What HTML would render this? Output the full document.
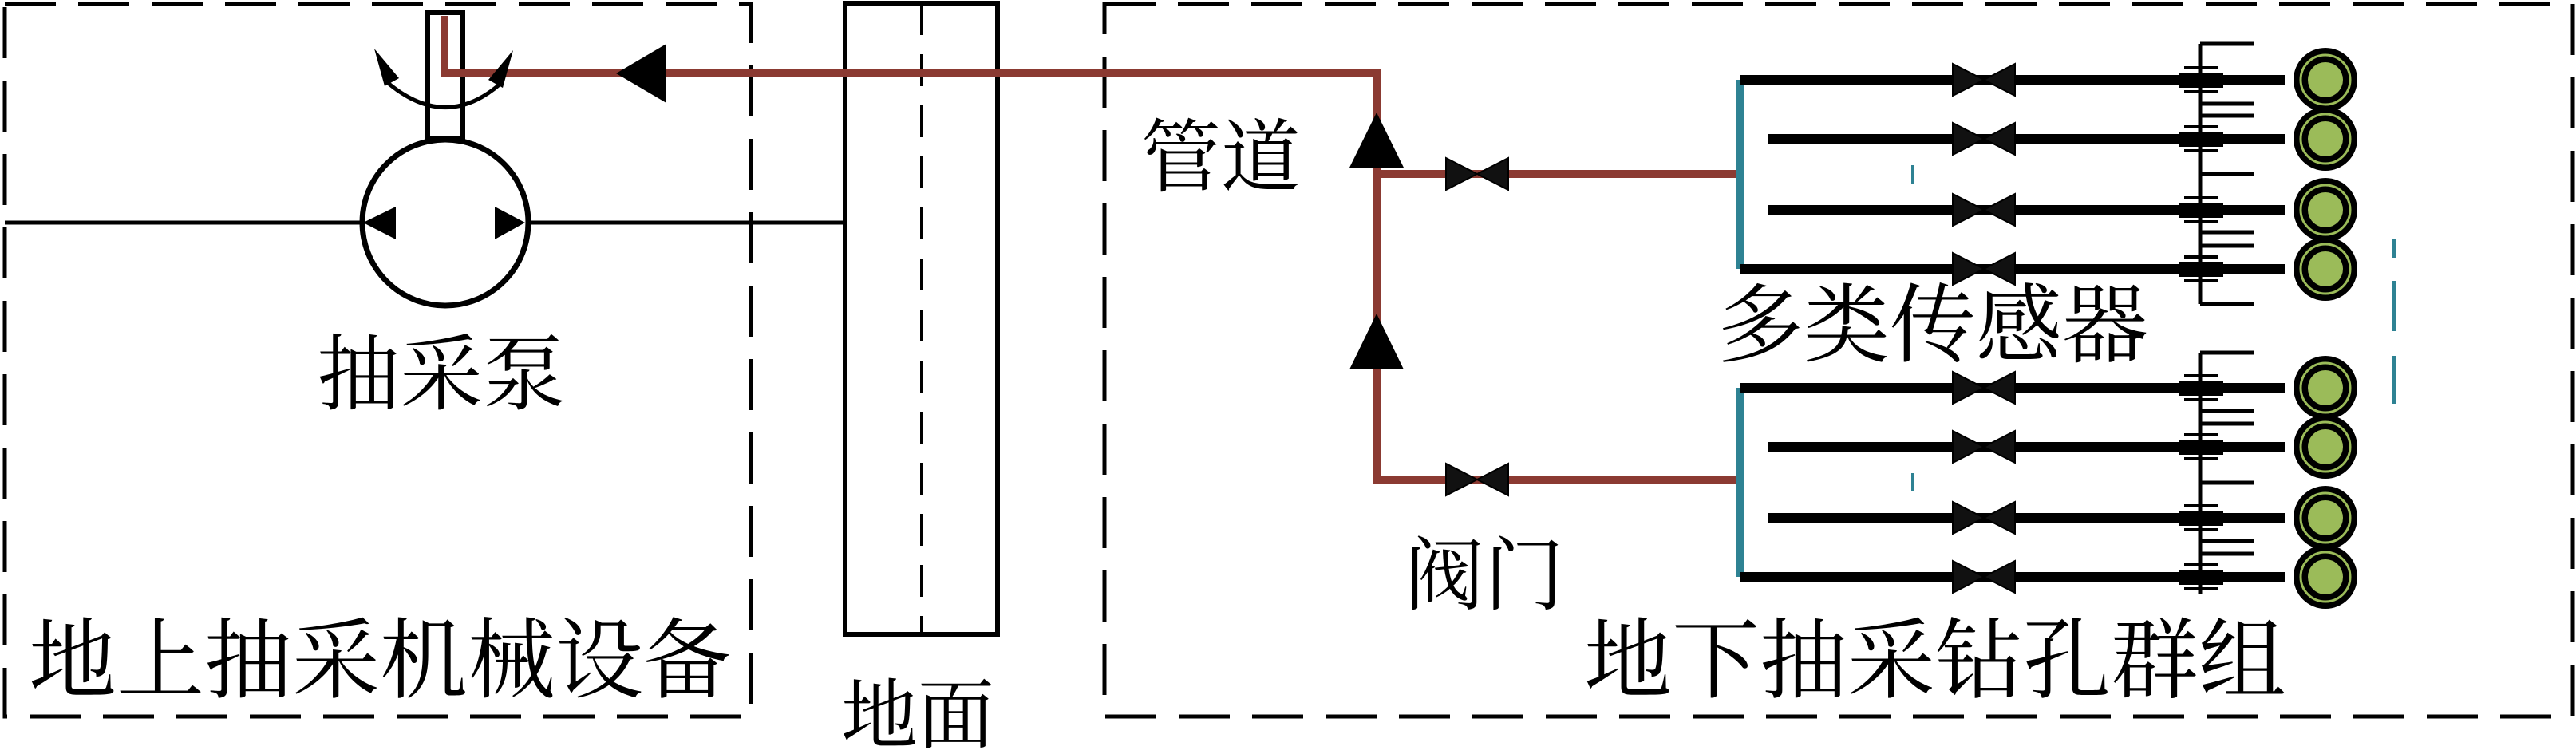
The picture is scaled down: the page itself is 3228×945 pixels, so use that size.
<!DOCTYPE html>
<html><head><meta charset="utf-8"><style>
html,body{margin:0;padding:0;background:#fff;}
svg{display:block;}
text{font-family:"Liberation Serif","Noto Serif CJK SC","Noto Sans CJK SC",serif;fill:#000;}
</style></head><body>
<svg width="3228" height="945" viewBox="0 0 3228 945" xmlns="http://www.w3.org/2000/svg">
<defs>
<g id="valveB"><polygon points="-39,-20 39,20 39,-20 -39,20" fill="#111" stroke="#000" stroke-width="2"/></g>
<g id="sensor">
  <circle r="40" fill="#000"/>
  <circle r="31" fill="none" stroke="#9bbb59" stroke-width="3"/>
  <circle r="22" fill="#9bbb59"/>
</g>
</defs>
<rect x="6" y="5" width="935" height="893" fill="none" stroke="#000" stroke-width="5" stroke-dasharray="64,28"/>
<rect x="1384" y="5" width="1840" height="893" fill="none" stroke="#000" stroke-width="5" stroke-dasharray="64,28"/>
<rect x="1059" y="4" width="191" height="791" fill="none" stroke="#000" stroke-width="6"/>
<line x1="1155" y1="4" x2="1155" y2="795" stroke="#000" stroke-width="4" stroke-dasharray="40,24"/>
<text x="1150" y="930" font-size="96" text-anchor="middle">地面</text>
<line x1="6" y1="279" x2="1059" y2="279" stroke="#000" stroke-width="5"/>
<circle cx="558" cy="279" r="104" fill="#fff" stroke="#000" stroke-width="7"/>
<line x1="6" y1="279" x2="455" y2="279" stroke="#000" stroke-width="5"/>
<line x1="661" y1="279" x2="1059" y2="279" stroke="#000" stroke-width="5"/>
<polygon points="455,279 496,259 496,300" fill="#000"/>
<polygon points="658,279 620,259 620,300" fill="#000"/>
<rect x="536" y="16" width="44" height="157" fill="#fff" stroke="#000" stroke-width="6"/>
<g stroke="#8b3a32" stroke-width="10" fill="none">
<polyline points="557,20 557,92 1725,92 1725,601 2180,601"/>
<line x1="1725" y1="218" x2="2180" y2="218"/>
</g>
<path d="M485,103 Q558,165 627,105" fill="none" stroke="#000" stroke-width="5"/>
<polygon points="469,61 500,98 482,108" fill="#000"/>
<polygon points="643,63 612,100 630,110" fill="#000"/>
<polygon points="772,92 835,55 835,129" fill="#000"/>
<polygon points="1725,141 1691,210 1759,210" fill="#000"/>
<polygon points="1725,393 1691,463 1759,463" fill="#000"/>
<use href="#valveB" x="1851" y="218"/>
<use href="#valveB" x="1851" y="601"/>
<text x="1430" y="232" font-size="100">管道</text>
<text x="1760" y="756" font-size="100">阀门</text>
<text x="553" y="505" font-size="104" text-anchor="middle">抽采泵</text>
<text x="36" y="866" font-size="110">地上抽采机械设备</text>
<text x="1985" y="866" font-size="110">地下抽采钻孔群组</text>
<text x="2152" y="445" font-size="108">多类传感器</text>
<rect x="2175" y="100" width="11" height="237" fill="#2e8293"/>
<rect x="2175" y="486" width="11" height="237" fill="#2e8293"/>
<rect x="2395" y="207" width="4" height="23" fill="#2e8293"/>
<rect x="2395" y="593" width="4" height="23" fill="#2e8293"/>
<rect x="2997" y="299" width="5" height="24" fill="#2e8293"/>
<rect x="2997" y="352" width="5" height="63" fill="#2e8293"/>
<rect x="2997" y="446" width="5" height="60" fill="#2e8293"/>
<g stroke="#000" stroke-width="5" fill="none">
<line x1="2757" y1="55" x2="2757" y2="381"/>
<line x1="2757" y1="442" x2="2757" y2="745"/>
<line x1="2757" y1="55" x2="2825" y2="55"/>
<line x1="2757" y1="130" x2="2825" y2="130"/>
<line x1="2757" y1="145" x2="2825" y2="145"/>
<line x1="2757" y1="218" x2="2825" y2="218"/>
<line x1="2757" y1="291" x2="2825" y2="291"/>
<line x1="2757" y1="308" x2="2825" y2="308"/>
<line x1="2757" y1="381" x2="2825" y2="381"/>
<line x1="2757" y1="442" x2="2825" y2="442"/>
<line x1="2757" y1="515" x2="2825" y2="515"/>
<line x1="2757" y1="531" x2="2825" y2="531"/>
<line x1="2757" y1="605" x2="2825" y2="605"/>
<line x1="2757" y1="678" x2="2825" y2="678"/>
<line x1="2757" y1="694" x2="2825" y2="694"/>
</g>
<g>
<line x1="2181" y1="100" x2="2863" y2="100" stroke="#000" stroke-width="12"/>
<line x1="2215" y1="174" x2="2863" y2="174" stroke="#000" stroke-width="12"/>
<line x1="2215" y1="263" x2="2863" y2="263" stroke="#000" stroke-width="12"/>
<line x1="2181" y1="337" x2="2863" y2="337" stroke="#000" stroke-width="12"/>
<line x1="2181" y1="486" x2="2863" y2="486" stroke="#000" stroke-width="12"/>
<line x1="2215" y1="560" x2="2863" y2="560" stroke="#000" stroke-width="12"/>
<line x1="2215" y1="649" x2="2863" y2="649" stroke="#000" stroke-width="12"/>
<line x1="2181" y1="723" x2="2863" y2="723" stroke="#000" stroke-width="12"/>
</g>
<g fill="#000">
<use href="#valveB" x="2486" y="100"/><use href="#valveB" x="2486" y="174"/>
<use href="#valveB" x="2486" y="263"/><use href="#valveB" x="2486" y="337"/>
<use href="#valveB" x="2486" y="486"/><use href="#valveB" x="2486" y="560"/>
<use href="#valveB" x="2486" y="649"/><use href="#valveB" x="2486" y="723"/>
</g>
<g fill="#000">
<rect x="2730" y="91" width="56" height="19"/><rect x="2737" y="83" width="42" height="4"/><rect x="2737" y="113" width="42" height="4"/>
<rect x="2730" y="165" width="56" height="19"/><rect x="2737" y="157" width="42" height="4"/><rect x="2737" y="187" width="42" height="4"/>
<rect x="2730" y="254" width="56" height="19"/><rect x="2737" y="246" width="42" height="4"/><rect x="2737" y="276" width="42" height="4"/>
<rect x="2730" y="328" width="56" height="19"/><rect x="2737" y="320" width="42" height="4"/><rect x="2737" y="350" width="42" height="4"/>
<rect x="2730" y="477" width="56" height="19"/><rect x="2737" y="469" width="42" height="4"/><rect x="2737" y="499" width="42" height="4"/>
<rect x="2730" y="551" width="56" height="19"/><rect x="2737" y="543" width="42" height="4"/><rect x="2737" y="573" width="42" height="4"/>
<rect x="2730" y="640" width="56" height="19"/><rect x="2737" y="632" width="42" height="4"/><rect x="2737" y="662" width="42" height="4"/>
<rect x="2730" y="714" width="56" height="19"/><rect x="2737" y="706" width="42" height="4"/><rect x="2737" y="736" width="42" height="4"/>
</g>
<use href="#sensor" x="2914" y="100"/><use href="#sensor" x="2914" y="174"/>
<use href="#sensor" x="2914" y="263"/><use href="#sensor" x="2914" y="337"/>
<use href="#sensor" x="2914" y="486"/><use href="#sensor" x="2914" y="560"/>
<use href="#sensor" x="2914" y="649"/><use href="#sensor" x="2914" y="723"/>
</svg>
</body></html>
